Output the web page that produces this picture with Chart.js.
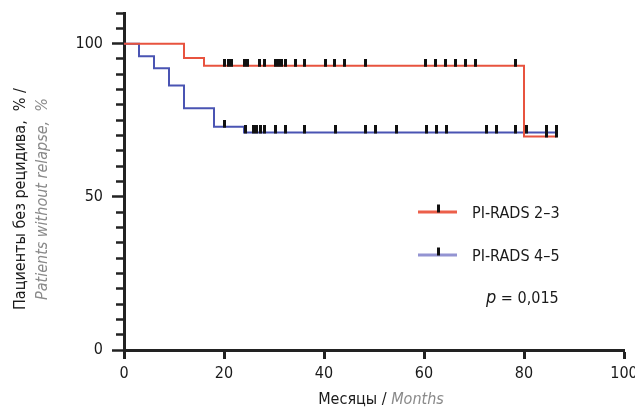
<!DOCTYPE html>
<html lang="ru">
<head>
<meta charset="utf-8">
<title>Kaplan–Meier PI-RADS</title>
<script src="https://cdn.jsdelivr.net/npm/chart.js@4.4.0/dist/chart.umd.min.js"></script>
<style>
  html, body { margin:0; padding:0; background:#fff; }
  #wrap { position:relative; width:635px; height:408px; overflow:hidden;
          font-family:'Liberation Sans Narrow','DejaVu Sans Condensed',sans-serif; color:#1a1a1a; }
  #chart { position:absolute; left:0; top:0; }
  .ytitle { position:absolute; left:31px; top:199px; width:280px; text-align:center;
            transform:translate(-50%,-50%) rotate(-90deg); font-size:16px; line-height:22px; white-space:nowrap; }
  .en { color:#8a8a8a; font-style:italic; }
  .xtitle { position:absolute; left:381px; top:398px; transform:translate(-50%,-50%);
            font-size:16px; white-space:nowrap; }
  .leg { position:absolute; left:418px; font-size:16px; display:flex; align-items:center;
         white-space:nowrap; transform:translateY(-50%); }
  .leg .smp { position:relative; width:39px; height:3px; margin-right:15px; }
  .leg .smp i { position:absolute; left:19px; top:-6px; width:3px; height:8px; background:#111; }
  .pval { position:absolute; left:486px; top:296px; transform:translateY(-50%); font-size:16px; white-space:nowrap; }
  .pval i { font-size:18px; }
</style>
</head>
<body>
<div id="wrap">
  <canvas id="chart" width="635" height="408"></canvas>
  <div class="ytitle">Пациенты без рецидива,&nbsp; % /<br><span class="en">Patients without relapse,&nbsp; %</span></div>
  <div class="xtitle">Месяцы / <span class="en">Months</span></div>
  <div class="leg" style="top:212px"><span class="smp" style="background:#ec5f4a"><i></i></span>PI-RADS 2–3</div>
  <div class="leg" style="top:255px"><span class="smp" style="background:#9394d2"><i></i></span>PI-RADS 4–5</div>
  <div class="pval"><i>p</i> = 0,015</div>
</div>
<script>
// Кривые Каплана–Мейера (месяцы / % без рецидива)
const redTimes  = [0, 12, 16, 80, 86.5];
const redSurv   = [100, 95.3, 92.8, 69.7, 69.7];
const blueTimes = [0, 3, 6, 9, 12, 18, 24, 86.5];
const blueSurv  = [100, 95.9, 92.0, 86.3, 78.9, 72.9, 71.0, 71.0];

// Цензурированные наблюдения (месяцы)
const redCensored  = [20.1, 20.8, 21.5, 24.1, 24.7, 27.1, 28.1, 30.2, 30.9, 31.5, 32.2,
                      34.2, 36.1, 40.2, 42.1, 44.1, 48.2, 60.2, 62.2, 64.2, 66.2, 68.2,
                      70.2, 78.2, 84.5, 86.5];
const blueCensored = [20.1, 24.3, 25.9, 26.5, 27.2, 28.1, 30.2, 32.2, 36.1, 42.2, 48.2,
                      50.2, 54.4, 60.4, 62.4, 64.4, 72.4, 74.4, 78.2, 80.4, 84.5, 86.5];

const xTicks  = [0, 20, 40, 60, 80, 100];
const yLabels = [0, 50, 100];

const RED  = '#e8533f';
const BLUE = '#4a54b3';
const INK  = '#1a1a1a';

// уровень кривой в момент t
function levelAt(times, surv, t) {
  let s = surv[0];
  for (let i = 0; i < times.length; i++) if (times[i] <= t) s = surv[i];
  return s;
}
const pts = (times, surv) => times.map((t, i) => ({ x: t, y: surv[i] }));
const marks = (cens, times, surv) => cens.map(t => ({ x: t, y: levelAt(times, surv, t) }));

// метка цензуры: чёрная черточка над линией
const tick = document.createElement('canvas');
tick.width = 3; tick.height = 14;
const tctx = tick.getContext('2d');
tctx.fillStyle = '#111';
tctx.fillRect(0, 0, 3, 8);

Chart.defaults.font.family = "'Liberation Sans Narrow','DejaVu Sans Condensed',sans-serif";
Chart.defaults.font.size = 16;
Chart.defaults.color = INK;

const markDs = (data) => ({
  type: 'scatter', data, showLine: false, order: 0,
  pointStyle: tick, pointRadius: 4, pointHoverRadius: 4
});
const lineDs = (data, color) => ({
  type: 'line', data, stepped: 'before', order: 1,
  borderColor: color, borderWidth: 2, pointRadius: 0, fill: false
});

new Chart(document.getElementById('chart'), {
  type: 'line',
  data: {
    datasets: [
      markDs(marks(redCensored, redTimes, redSurv)),
      markDs(marks(blueCensored, blueTimes, blueSurv)),
      lineDs(pts(redTimes, redSurv), RED),
      lineDs(pts(blueTimes, blueSurv), BLUE)
    ]
  },
  options: {
    responsive: false, animation: false,
    layout: { padding: { left: 0, right: 11, top: 13, bottom: 0 } },
    plugins: { legend: { display: false }, tooltip: { enabled: false } },
    scales: {
      x: {
        type: 'linear', min: 0, max: 100,
        // фиксируем область графика: без запаса под крайние подписи
        afterFit: s => { s.height = 58; s.paddingLeft = 0; s.paddingRight = 0; },
        afterBuildTicks: s => { s.ticks = xTicks.map(v => ({ value: v })); },
        ticks: { padding: 5, color: INK, maxRotation: 0 },
        grid: { drawOnChartArea: false, tickLength: 9, tickWidth: 3, tickColor: '#222' },
        border: { color: '#222', width: 3 }
      },
      y: {
        type: 'linear', min: 0, max: 110,
        afterFit: s => { s.width = 124; s.paddingTop = 0; s.paddingBottom = 0; },
        ticks: {
          stepSize: 5, autoSkip: false, padding: 9, color: INK,
          callback: v => yLabels.includes(v) ? String(v) : ''
        },
        grid: {
          drawOnChartArea: false, tickLength: 12, tickWidth: 2.5, tickColor: '#222',
          tickBorderDash: ctx => (ctx.tick && yLabels.includes(ctx.tick.value)) ? [] : [0, 4, 8, 100]
        },
        border: { color: '#222', width: 3 }
      }
    }
  }
});
</script>
</body>
</html>
